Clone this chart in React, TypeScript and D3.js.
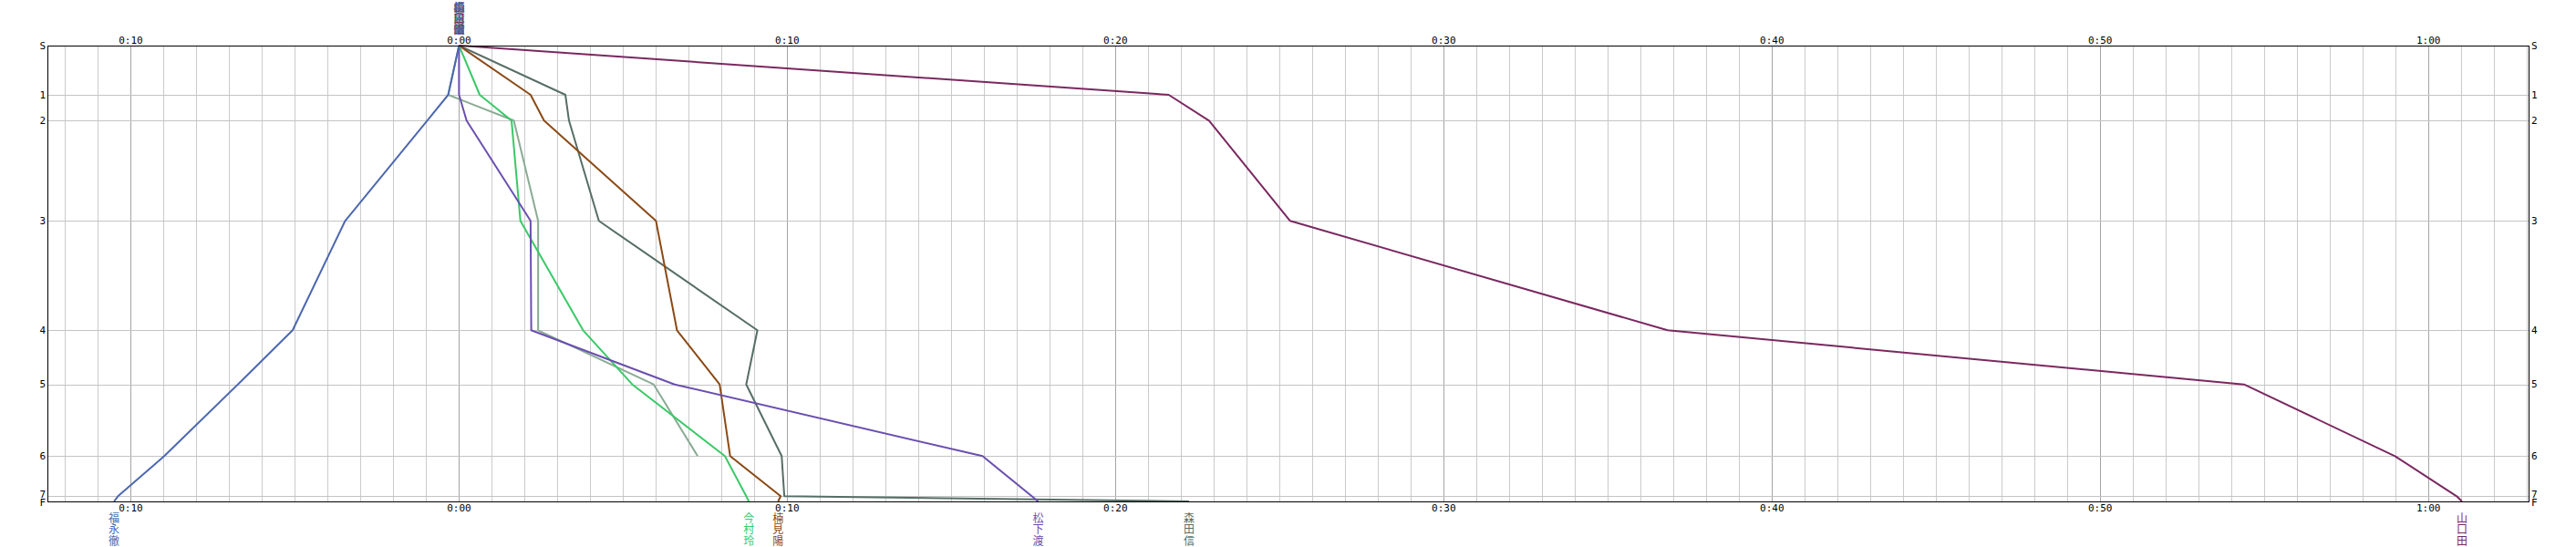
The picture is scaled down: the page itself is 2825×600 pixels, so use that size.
import React from 'react';
import * as d3 from 'd3';

// stations top to bottom, with distance from start (km)
const stationNames = ['S', '1', '2', '3', '4', '5', '6', '7', 'F'];
const stationKm = [0, 5.4, 8.23, 19.23, 31.23, 37.17, 45.03, 49.43, 50];

// passing times (minutes) at each station, null = not reached
const fukunagaTimes = [0, -0.33, -0.97, -3.47, -5.07, -6.74, -8.98, -10.39, -10.51];
const grayTimes = [0, -0.33, 1.67, 2.41, 2.41, 5.93, 7.27, null, null];
const moritaTimes = [0, 3.24, 3.35, 4.26, 9.09, 8.75, 9.83, 9.91, 22.24];
const kusumiTimes = [0, 2.18, 2.59, 6.0, 6.64, 7.94, 8.26, 9.8, 9.72];
const imamuraTimes = [0, 0.63, 1.6, 1.87, 3.78, 5.28, 8.1, 8.75, 8.83];
const matsushitaTimes = [0, 0, 0.23, 2.18, 2.2, 6.57, 15.95, 17.45, 17.64];
const yamaguchiTimes = [0, 21.62, 22.85, 25.32, 36.82, 54.38, 58.98, 60.86, 61.02];

const runners = [
  { name: '', color: '#8aab94', times: grayTimes },
  { name: '森田信', color: '#566e64', times: moritaTimes },
  { name: '楠見陽', color: '#8b4a16', times: kusumiTimes },
  { name: '今村玲', color: '#39c967', times: imamuraTimes },
  { name: '松下渡', color: '#6a4fb0', times: matsushitaTimes },
  { name: '山口田', color: '#7a2860', times: yamaguchiTimes },
  { name: '福永徹', color: '#4d68b0', times: fukunagaTimes },
];

const timeTicks = [-10, 0, 10, 20, 30, 40, 50, 60];

const W = 2825;
const H = 600;
const left = 52;
const right = 2773;
const top = 50;
const bottom = 550;

const monoFont = '"DejaVu Sans Mono", monospace';
const cjkFont = '"Noto Sans CJK JP", sans-serif';

const fmt = (t: number) => {
  const a = Math.abs(t);
  return `${Math.floor(a / 60)}:${String(a % 60).padStart(2, '0')}`;
};

// small nudges so "7" and "F" sit like the original
const labelShift: Record<string, number> = { '7': -1.5, F: 1.5 };

const App: React.FC = () => {
  const x = d3.scaleLinear().domain([-12.54, 63.05]).range([left, right]);
  const y = d3.scaleLinear().domain([0, 50]).range([top, bottom]);

  const minutes = d3.range(-12, 64);
  const px = (v: number) => Math.round(v) + 0.5;

  const line = d3
    .line<number | null>()
    .defined((d) => d !== null)
    .x((d) => x(d as number))
    .y((_, i) => y(stationKm[i]));

  const vertName = (name: string, cx: number, y0: number, color: string, key: string) => (
    <g key={key}>
      {name.split('').map((ch, i) => (
        <text
          key={i}
          x={cx}
          y={y0 + i * 12.4}
          textAnchor="middle"
          dominantBaseline="central"
          fontFamily={cjkFont}
          fontSize={12}
          fill={color}
        >
          {ch}
        </text>
      ))}
    </g>
  );

  return (
    <svg
      width={W}
      height={H}
      style={{ position: 'absolute', left: 0, top: 0, background: '#fff' }}
    >
      {/* minute grid */}
      {minutes.map((m) => (
        <line
          key={`v${m}`}
          x1={px(x(m))}
          x2={px(x(m))}
          y1={top}
          y2={bottom}
          stroke={m % 10 === 0 ? '#a4a4a4' : '#cbcbcb'}
          strokeWidth={1}
          shapeRendering="crispEdges"
        />
      ))}
      {/* station grid */}
      {stationKm.slice(1, -1).map((d, i) => (
        <line
          key={`h${i}`}
          x1={left}
          x2={right}
          y1={px(y(d))}
          y2={px(y(d))}
          stroke="#c4c4c4"
          strokeWidth={1}
          shapeRendering="crispEdges"
        />
      ))}

      {/* runners */}
      {runners.map((r) => (
        <path
          key={r.color}
          d={line(r.times) || ''}
          fill="none"
          stroke={r.color}
          strokeWidth={2}
          strokeLinejoin="round"
        />
      ))}

      {/* frame */}
      <rect
        x={left + 0.5}
        y={top + 0.5}
        width={right - left}
        height={bottom - top}
        fill="none"
        stroke="#000"
        strokeWidth={1}
        shapeRendering="crispEdges"
      />

      {/* time labels */}
      {timeTicks.map((t) => (
        <g key={`t${t}`}>
          <text x={x(t)} y={48} textAnchor="middle" fontFamily={monoFont} fontSize={11} fill="#000">
            {fmt(t)}
          </text>
          <text x={x(t)} y={561} textAnchor="middle" fontFamily={monoFont} fontSize={11} fill="#000">
            {fmt(t)}
          </text>
        </g>
      ))}

      {/* station labels */}
      {stationNames.map((s, i) => (
        <g key={`s${s}`}>
          <text
            x={left - 2}
            y={y(stationKm[i]) + (labelShift[s] || 0)}
            textAnchor="end"
            dominantBaseline="central"
            fontFamily={monoFont}
            fontSize={11}
            fill="#000"
          >
            {s}
          </text>
          <text
            x={right + 3}
            y={y(stationKm[i]) + (labelShift[s] || 0)}
            textAnchor="start"
            dominantBaseline="central"
            fontFamily={monoFont}
            fontSize={11}
            fill="#000"
          >
            {s}
          </text>
        </g>
      ))}

      {/* names stacked at the start */}
      {runners
        .filter((r) => r.name)
        .map((r) => vertName(r.name, x(0), 7, r.color, `top${r.name}`))}

      {/* names at the finish */}
      {runners
        .filter((r) => r.name && r.times[r.times.length - 1] !== null)
        .map((r) =>
          vertName(r.name, x(r.times[r.times.length - 1] as number), 567.5, r.color, `bot${r.name}`)
        )}
    </svg>
  );
};

export default App;
